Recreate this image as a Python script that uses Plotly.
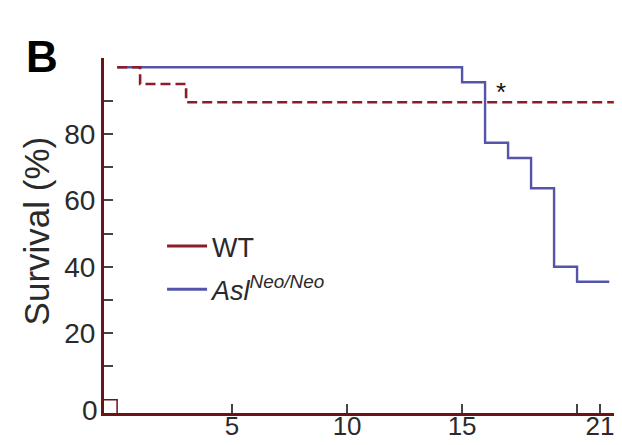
import plotly.graph_objects as go

# Data (Kaplan-Meier style step curves)
wt_days = [0, 1, 3, 21.6]
wt_survival = [100, 95, 89.5, 89.5]

asl_days = [0, 15, 16, 17, 18, 19, 20, 21.4]
asl_survival = [100, 95.5, 77.3, 72.7, 63.6, 40.0, 35.5, 35.5]

x_tick_vals = [5, 10, 15, 21]
x_tick_text = ["5", "10", "15", "21"]
x_minor_vals = [20]
y_tick_vals = [20, 40, 60, 80]
y_tick_text = ["20", "40", "60", "80"]
y_minor_vals = [10, 30, 50, 70, 90]

RED = "#8e1c28"
BLUE = "#5454a8"
AXIS = "#6a1418"
FONT = "Liberation Sans, Arial, sans-serif"

fig = go.Figure()

fig.add_trace(go.Scatter(
    x=asl_days, y=asl_survival, mode="lines", line_shape="hv",
    line=dict(color=BLUE, width=2.4), showlegend=False, hoverinfo="skip"))
fig.add_trace(go.Scatter(
    x=wt_days, y=wt_survival, mode="lines", line_shape="hv",
    line=dict(color=RED, width=2.6, dash="10px,5px"), showlegend=False, hoverinfo="skip"))

# legend entries (solid swatches as in the reference)
fig.add_trace(go.Scatter(
    x=[None], y=[None], mode="lines", name="WT",
    line=dict(color=RED, width=3), legendgroup="a"))
fig.add_trace(go.Scatter(
    x=[None], y=[None], mode="lines", name="<i>Asl<sup>Neo/Neo</sup></i>",
    line=dict(color=BLUE, width=3), legendgroup="b"))

tick_style = dict(ticks="inside", ticklen=9, tickwidth=1.5, tickcolor="#444")

# page body has an 8px margin, so the figure is slightly smaller than the window
fig.update_layout(
    width=614, height=437,
    margin=dict(l=96, r=4, t=50, b=32),
    paper_bgcolor="white", plot_bgcolor="white",
    font=dict(family=FONT, color="#2a2a2a", size=28),
    legend=dict(x=0.113, y=0.538, xanchor="left", yanchor="top",
                bgcolor="rgba(0,0,0,0)", font=dict(size=27, color="#2a2a2a"),
                tracegroupgap=5, itemwidth=40),
    xaxis=dict(range=[-0.57, 21.78], showgrid=False, zeroline=False,
               showline=True, linecolor=AXIS, linewidth=3, automargin=False,
               tickmode="array", tickvals=x_tick_vals, ticktext=x_tick_text,
               ticklabelstandoff=-12,
               minor=dict(tickmode="array", tickvals=x_minor_vals, showgrid=False, **tick_style),
               tickfont=dict(size=26, color="#2a2a2a"), **tick_style),
    yaxis=dict(range=[-4, 102.8], showgrid=False, zeroline=False,
               showline=True, linecolor=AXIS, linewidth=3, automargin=False,
               tickmode="array", tickvals=y_tick_vals, ticktext=y_tick_text,
               minor=dict(tickmode="array", tickvals=y_minor_vals, showgrid=False, **tick_style),
               tickfont=dict(size=28, color="#2a2a2a"), **tick_style),
)

# small corner box at the origin, as in the reference
fig.add_shape(type="path", xref="x", yref="y",
              path="M 0,-4 L 0,0 L -0.57,0",
              line=dict(color=AXIS, width=1.5))

fig.add_annotation(text="Survival (%)", xref="paper", yref="paper",
                   x=-0.132, y=0.512, textangle=-90, showarrow=False,
                   xanchor="center", yanchor="middle",
                   font=dict(size=35, color="#2a2a2a"))
fig.add_annotation(text="0", xref="paper", yref="paper", x=-0.028, y=0.008,
                   showarrow=False, xanchor="center", yanchor="middle",
                   font=dict(size=28, color="#2a2a2a"))
fig.add_annotation(text="*", xref="x", yref="y", x=16.7, y=92.7,
                   showarrow=False, font=dict(size=26, color="#111"))
fig.add_annotation(text="<b>B</b>", xref="paper", yref="paper", x=-0.12, y=1.005,
                   showarrow=False, xanchor="center", yanchor="middle",
                   font=dict(size=44, color="#000"))

fig.write_html("out.html")
